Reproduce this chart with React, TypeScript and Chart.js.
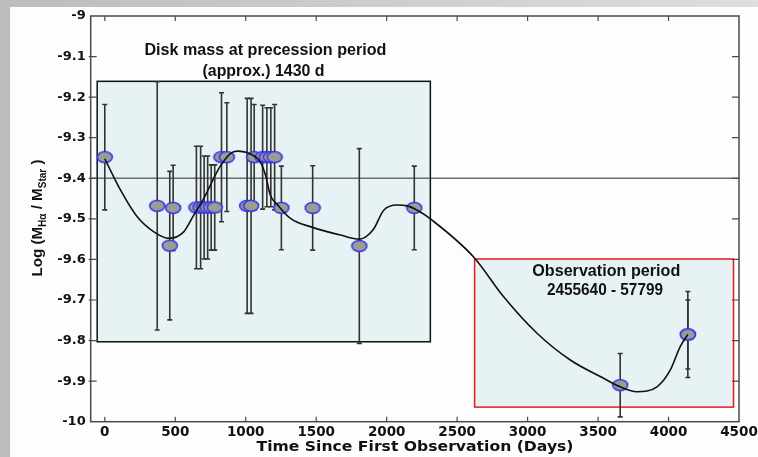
import React, { useEffect, useRef } from 'react';
import { Chart, registerables } from 'chart.js';

Chart.register(...registerables);

// ---- data ----
const obsDays = [0, 372, 461, 485, 650, 680, 705, 730, 755, 780, 828, 866, 1010, 1038, 1060, 1120, 1150, 1178, 1205, 1253, 1475, 1806, 2196, 3657, 4137, 4137];
const obsLogMass = [-9.348, -9.468, -9.566, -9.473, -9.472, -9.472, -9.472, -9.472, -9.472, -9.472, -9.348, -9.348, -9.468, -9.468, -9.348, -9.348, -9.348, -9.348, -9.348, -9.473, -9.473, -9.567, -9.473, -9.91, -9.785, -9.785];
const obsErr = [0.13, 0.306, 0.183, 0.105, 0.151, 0.151, 0.127, 0.127, 0.105, 0.105, 0.159, 0.134, 0.265, 0.265, 0.13, 0.128, 0.122, 0.122, 0.13, 0.103, 0.104, 0.24, 0.103, 0.078, 0.106, 0.085];

const curveDays = [0, 113, 230, 348, 454, 560, 631, 702, 773, 816, 891, 939, 1033, 1104, 1140, 1175, 1223, 1317, 1475, 1672, 1806, 1849, 1908, 1979, 2074, 2145, 2239, 2310, 2617, 2830, 3067, 3303, 3539, 3657, 3776, 3918, 4012, 4083, 4137];
const curveLogMass = [-9.352, -9.43, -9.495, -9.532, -9.548, -9.532, -9.491, -9.45, -9.4, -9.372, -9.339, -9.333, -9.34, -9.36, -9.392, -9.442, -9.464, -9.499, -9.521, -9.54, -9.55, -9.545, -9.525, -9.479, -9.466, -9.468, -9.483, -9.5, -9.594, -9.692, -9.782, -9.848, -9.893, -9.914, -9.926, -9.914, -9.873, -9.815, -9.785];

const xTickValues = [0, 500, 1000, 1500, 2000, 2500, 3000, 3500, 4000, 4500];
const xTickLabels = ['0', '500', '1000', '1500', '2000', '2500', '3000', '3500', '4000', '4500'];
const yTickValues = [-10, -9.9, -9.8, -9.7, -9.6, -9.5, -9.4, -9.3, -9.2, -9.1, -9];
const yTickLabels = ['-10', '-9.9', '-9.8', '-9.7', '-9.6', '-9.5', '-9.4', '-9.3', '-9.2', '-9.1', '-9'];

const referenceLevel = -9.4;

const boxes = [
  { x0: -54, x1: 2310, y0: -9.161, y1: -9.803, stroke: '#111111' },
  { x0: 2624, x1: 4461, y0: -9.599, y1: -9.964, stroke: '#e31c1c' },
];
const boxLabels = [
  { text: 'Disk mass at precession period', x: 1140, y: -9.0845, w: 242 },
  { text: '(approx.) 1430 d', x: 1126, y: -9.136, w: 122 },
  { text: 'Observation period', x: 3558, y: -9.629, w: 148 },
  { text: '2455640 - 57799', x: 3549, y: -9.677, w: 116 },
];

const xTitle = 'Time Since First Observation (Days)';
const yTitleParts = [
  { t: 'Log (M', sub: false },
  { t: 'Hα', sub: true },
  { t: ' / M', sub: false },
  { t: 'Star', sub: true },
  { t: ' )', sub: false },
];

function makeEllipse(): HTMLCanvasElement {
  const c = document.createElement('canvas');
  c.width = 18;
  c.height = 14;
  const g = c.getContext('2d')!;
  g.beginPath();
  g.ellipse(9, 7, 7.5, 5.6, 0, 0, Math.PI * 2);
  g.fillStyle = '#9c9c92';
  g.fill();
  g.lineWidth = 1.5;
  g.strokeStyle = '#3232f0';
  g.stroke();
  return c;
}

function fitText(ctx: CanvasRenderingContext2D, text: string, cx: number, cy: number, width: number, font: string) {
  ctx.save();
  ctx.font = font;
  const w = ctx.measureText(text).width;
  ctx.translate(cx, cy);
  ctx.scale(width / w, 1);
  ctx.textAlign = 'center';
  ctx.textBaseline = 'middle';
  ctx.fillStyle = '#111';
  ctx.fillText(text, 0, 0);
  ctx.restore();
}

const decorPlugin = {
  id: 'decor',
  beforeDraw(chart: any) {
    const { ctx, width, height } = chart;
    ctx.save();
    ctx.fillStyle = '#fdfdfd';
    ctx.fillRect(0, 0, width, height);
    ctx.restore();
  },
  beforeDatasetsDraw(chart: any) {
    const { ctx, chartArea: a } = chart;
    const x = chart.scales.x;
    const y = chart.scales.y;
    ctx.save();
    for (const b of boxes) {
      const px0 = x.getPixelForValue(b.x0);
      const px1 = x.getPixelForValue(b.x1);
      const py0 = y.getPixelForValue(b.y0);
      const py1 = y.getPixelForValue(b.y1);
      ctx.fillStyle = '#e7f2f4';
      ctx.fillRect(px0, py0, px1 - px0, py1 - py0);
    }
    const ry = y.getPixelForValue(referenceLevel);
    ctx.strokeStyle = '#6e6e6e';
    ctx.lineWidth = 1.5;
    ctx.beginPath();
    ctx.moveTo(a.left, ry);
    ctx.lineTo(a.right, ry);
    ctx.stroke();
    for (const b of boxes) {
      const px0 = x.getPixelForValue(b.x0);
      const px1 = x.getPixelForValue(b.x1);
      const py0 = y.getPixelForValue(b.y0);
      const py1 = y.getPixelForValue(b.y1);
      ctx.strokeStyle = b.stroke;
      ctx.lineWidth = 1.5;
      ctx.strokeRect(px0, py0, px1 - px0, py1 - py0);
    }
    ctx.strokeStyle = '#333';
    ctx.lineWidth = 1.6;
    obsDays.forEach((d, i) => {
      const px = x.getPixelForValue(d);
      const top = y.getPixelForValue(obsLogMass[i] + obsErr[i]);
      const bot = y.getPixelForValue(obsLogMass[i] - obsErr[i]);
      ctx.beginPath();
      ctx.moveTo(px, top);
      ctx.lineTo(px, bot);
      ctx.moveTo(px - 2.5, top);
      ctx.lineTo(px + 2.5, top);
      ctx.moveTo(px - 2.5, bot);
      ctx.lineTo(px + 2.5, bot);
      ctx.stroke();
    });
    ctx.restore();
  },
  afterDraw(chart: any) {
    const { ctx, chartArea: a } = chart;
    const x = chart.scales.x;
    const y = chart.scales.y;
    ctx.save();
    ctx.strokeStyle = '#4a4a4a';
    ctx.lineWidth = 1.5;
    ctx.strokeRect(a.left, a.top, a.right - a.left, a.bottom - a.top);
    ctx.lineWidth = 1.2;
    ctx.beginPath();
    xTickValues.forEach((v) => {
      const px = x.getPixelForValue(v);
      if (px > a.right - 2) return;
      ctx.moveTo(px, a.bottom);
      ctx.lineTo(px, a.bottom - 5);
      ctx.moveTo(px, a.top);
      ctx.lineTo(px, a.top + 5);
    });
    yTickValues.forEach((v) => {
      const py = y.getPixelForValue(v);
      if (py < a.top + 2 || py > a.bottom - 2) return;
      ctx.moveTo(a.left - 2, py);
      ctx.lineTo(a.left + 6, py);
      ctx.moveTo(a.right, py);
      ctx.lineTo(a.right - 7, py);
    });
    ctx.stroke();
    for (const l of boxLabels) {
      fitText(ctx, l.text, x.getPixelForValue(l.x), y.getPixelForValue(l.y), l.w, 'bold 17px "Liberation Sans Narrow", "Liberation Sans", Arial, sans-serif');
    }
    fitText(ctx, xTitle, 405, 440.5, 317, 'bold 13.5px "DejaVu Sans", sans-serif');
    const mainFont = 'bold 15px "Liberation Sans", Arial, sans-serif';
    const subFont = 'bold 10px "Liberation Sans", Arial, sans-serif';
    let total = 0;
    const widths = yTitleParts.map((p) => {
      ctx.font = p.sub ? subFont : mainFont;
      const w = ctx.measureText(p.t).width;
      total += w;
      return w;
    });
    const k = 117 / total;
    ctx.translate(26.5, 211);
    ctx.rotate(-Math.PI / 2);
    ctx.scale(k, 1);
    ctx.fillStyle = '#111';
    ctx.textBaseline = 'alphabetic';
    ctx.textAlign = 'left';
    let cur = -total / 2;
    yTitleParts.forEach((p, i) => {
      ctx.font = p.sub ? subFont : mainFont;
      ctx.fillText(p.t, cur, p.sub ? 9 : 5);
      cur += widths[i];
    });
    ctx.restore();
  },
};

export default function App() {
  const ref = useRef<HTMLCanvasElement | null>(null);
  useEffect(() => {
    if (!ref.current) return;
    const pointImg = makeEllipse();
    const chart = new Chart(ref.current, {
      type: 'scatter',
      data: {
        datasets: [
          {
            label: 'fit',
            data: curveDays.map((d, i) => ({ x: d, y: curveLogMass[i] })),
            showLine: true,
            borderColor: '#111',
            borderWidth: 1.6,
            pointRadius: 0,
            cubicInterpolationMode: 'monotone',
            fill: false,
          } as any,
          {
            label: 'obs',
            data: obsDays.map((d, i) => ({ x: d, y: obsLogMass[i] })),
            pointStyle: pointImg as any,
            pointRadius: 8,
            showLine: false,
          } as any,
        ],
      },
      options: {
        animation: false,
        responsive: false,
        maintainAspectRatio: false,
        layout: { padding: { top: 8.7, right: 19, left: 0, bottom: 0 } },
        plugins: { legend: { display: false }, tooltip: { enabled: false }, title: { display: false } },
        scales: {
          x: {
            type: 'linear',
            min: -100,
            max: 4500,
            grid: { display: false, drawTicks: false },
            border: { display: false },
            ticks: {
              font: { family: '"DejaVu Sans", sans-serif', weight: 'bold', size: 13.5 },
              color: '#111',
              padding: 3,
              maxRotation: 0,
              autoSkip: false,
              callback: (value: any) => {
                const idx = xTickValues.findIndex((v) => Math.abs(v - Number(value)) < 1e-6);
                return idx >= 0 ? xTickLabels[idx] : '';
              },
            },
            afterBuildTicks: (s: any) => {
              s.ticks = xTickValues.map((v) => ({ value: v }));
            },
            afterFit: (s: any) => {
              s.height = 35.3;
              s.paddingLeft = 0;
              s.paddingRight = 0;
            },
          },
          y: {
            type: 'linear',
            min: -10,
            max: -9,
            grid: { display: false, drawTicks: false },
            border: { display: false },
            ticks: {
              font: { family: '"DejaVu Sans", sans-serif', weight: 'bold', size: 13 },
              color: '#111',
              padding: 5,
              autoSkip: false,
              callback: (value: any) => {
                const idx = yTickValues.findIndex((v) => Math.abs(v - Number(value)) < 1e-6);
                return idx >= 0 ? yTickLabels[idx] : '';
              },
            },
            afterBuildTicks: (s: any) => {
              s.ticks = yTickValues.map((v) => ({ value: v }));
            },
            afterFit: (s: any) => {
              s.width = 80.7;
              s.paddingTop = 0;
              s.paddingBottom = 0;
            },
          },
        },
      } as any,
      plugins: [decorPlugin],
    });
    return () => chart.destroy();
  }, []);

  return (
    <div
      style={{
        position: 'fixed',
        left: 0,
        top: 0,
        width: 758,
        height: 457,
        background: 'linear-gradient(to right, #bcbcbc, #dedede)',
        overflow: 'hidden',
      }}
    >
      <canvas
        ref={ref}
        width={748}
        height={450}
        style={{ position: 'absolute', left: 10, top: 7, width: 748, height: 450 }}
      />
    </div>
  );
}
